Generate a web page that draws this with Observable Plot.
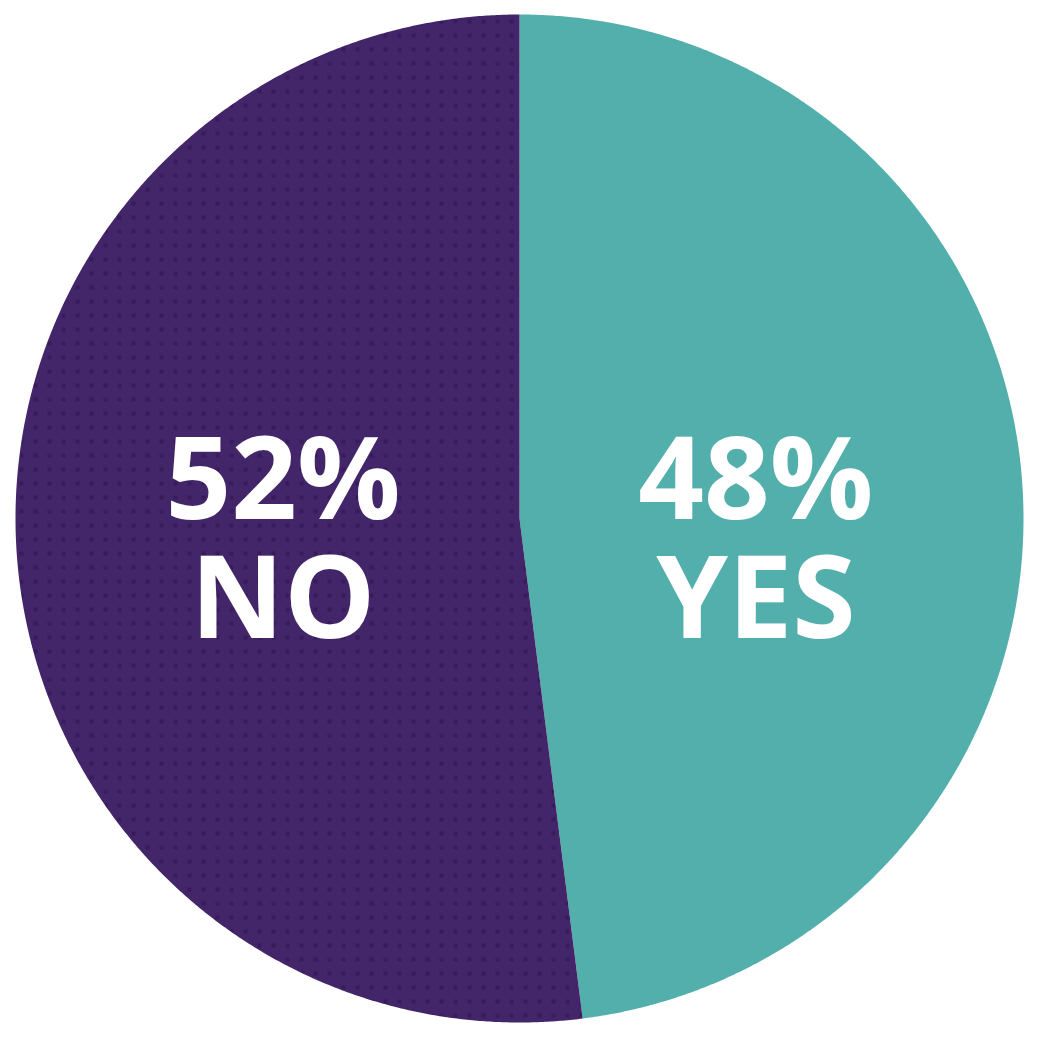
<!DOCTYPE html>
<html>
<head>
<meta charset="utf-8">
<script src="https://cdn.jsdelivr.net/npm/d3@7"></script>
<script src="https://cdn.jsdelivr.net/npm/@observablehq/plot@0.6"></script>
<style>
  html, body { margin: 0; padding: 0; background: #ffffff; overflow: hidden; }
  #chart svg { display: block; }
</style>
</head>
<body>
<div id="chart"></div>
<script>
// ---- data ----
const categories = ["YES", "NO"];
const values = [48, 52];
const percentLabels = ["48%", "52%"];

// ---- styles ----
const sliceColors = ["#53afac", "url(#dots)"];
const W = 1040, H = 1040;
const cx = 519, cy = 518, R = 504;

// build slice outlines from d3.pie angles (clockwise from 12 o'clock)
const arcs = d3.pie().sort(null).value(d => d.value)(
  categories.map((c, i) => ({category: c, value: values[i], pct: percentLabels[i]}))
);

const outline = [];
arcs.forEach(a => {
  const n = Math.max(2, Math.ceil((a.endAngle - a.startAngle) / 0.005));
  outline.push({category: a.data.category, x: 0, y: 0});
  for (let k = 0; k <= n; k++) {
    const t = a.startAngle + (a.endAngle - a.startAngle) * k / n;
    outline.push({category: a.data.category, x: Math.sin(t), y: -Math.cos(t)});
  }
});

const labelR = 0.47;
const labels = arcs.map(a => {
  const m = (a.startAngle + a.endAngle) / 2;
  return {category: a.data.category, text: a.data.pct + "\n" + a.data.category, x: labelR * Math.sin(m), y: 0};
});

const plot = Plot.plot({
  width: W,
  height: H,
  margin: 0,
  style: {fontFamily: "'Open Sans', sans-serif", background: "#ffffff"},
  x: {domain: [-cx / R, (W - cx) / R], range: [0, W], axis: null},
  y: {domain: [-cy / R, (H - cy) / R], range: [0, H], axis: null},
  color: {domain: categories, range: sliceColors},
  marks: [
    Plot.line(outline, {x: "x", y: "y", z: "category", fill: "category", stroke: "none", curve: "linear-closed"}),
    Plot.text(labels, {x: "x", y: "y", text: "text", fill: "white", fontSize: 115, fontWeight: 700, lineHeight: 1.03, dy: 22, textAnchor: "middle", lineAnchor: "middle", letterSpacing: "5px"})
  ]
});

// dotted texture pattern for the purple slice
const svg = d3.select(plot);
const defs = svg.insert("defs", ":first-child");
const pat = defs.append("pattern")
  .attr("id", "dots")
  .attr("patternUnits", "userSpaceOnUse")
  .attr("width", 14).attr("height", 14);
pat.append("rect").attr("width", 14).attr("height", 14).attr("fill", "#43256a");
pat.append("rect").attr("x", 5).attr("y", 5).attr("width", 4).attr("height", 4).attr("fill", "#381c5a");

document.getElementById("chart").appendChild(plot);
</script>
</body>
</html>
